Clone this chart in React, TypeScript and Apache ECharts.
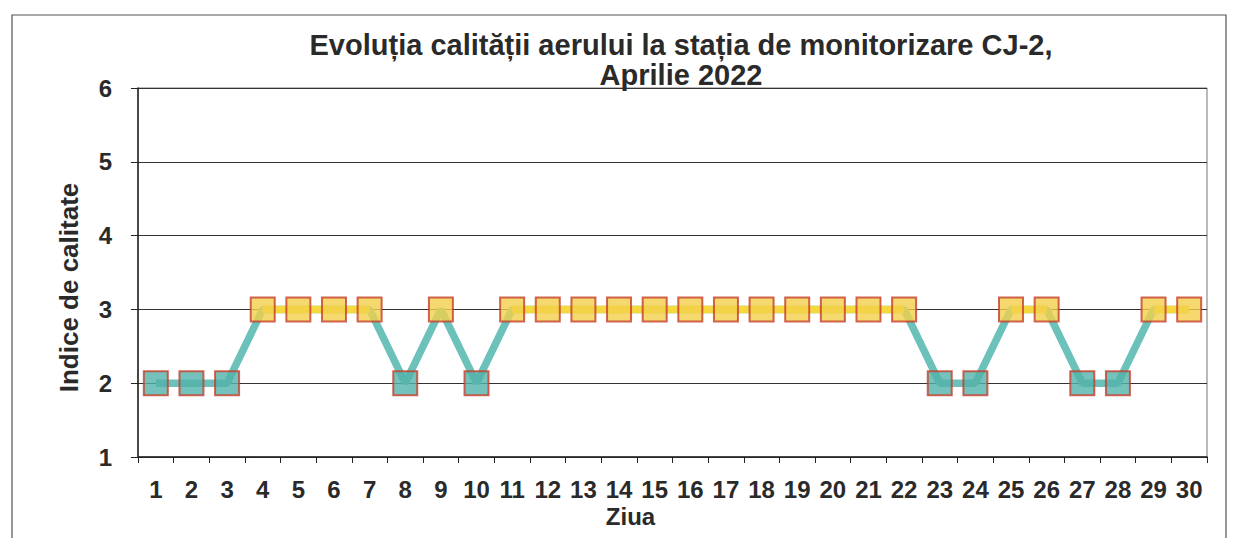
import React, { useEffect, useRef } from "react";
import * as echarts from "echarts";

const titleLines = ["Evoluția calității aerului la stația de monitorizare CJ-2,", "Aprilie 2022"];
const yAxisName = "Indice de calitate";
const xAxisName = "Ziua";
const days = [
  "1", "2", "3", "4", "5", "6", "7", "8", "9", "10",
  "11", "12", "13", "14", "15", "16", "17", "18", "19", "20",
  "21", "22", "23", "24", "25", "26", "27", "28", "29", "30",
];
const indexValues = [
  2, 2, 2, 3, 3, 3, 3, 2, 3, 2,
  3, 3, 3, 3, 3, 3, 3, 3, 3, 3,
  3, 3, 2, 2, 3, 3, 2, 2, 3, 3,
];

const YELLOW = "#F3CF4A";
const YELLOW_LINE = "#F6D93E";
const TEAL = "#52B2AA";
const TEAL_LINE = "#6CC2BB";
const RED = "#C63D2A";
const FONT = "'Liberation Sans', Arial, sans-serif";

export default function App() {
  const ref = useRef<HTMLDivElement>(null);

  useEffect(() => {
    if (!ref.current) return;
    const chart = echarts.init(ref.current, undefined, { renderer: "svg" });

    const yellowOnly = indexValues.map((v) => (v === 3 ? v : null));
    const markers = indexValues.map((v) => ({
      value: v,
      itemStyle: { color: v === 3 ? YELLOW : TEAL, borderColor: RED, borderWidth: 2 },
    }));

    chart.setOption({
      animation: false,
      backgroundColor: "#ffffff",
      textStyle: { fontFamily: FONT },
      title: {
        text: titleLines.join("\n"),
        left: 676,
        textAlign: "center",
        top: 25,
        textStyle: {
          fontFamily: FONT,
          fontSize: 29,
          fontWeight: "bold",
          color: "#2a2a2a",
          lineHeight: 30,
        },
      },
      graphic: [
        {
          type: "rect",
          shape: { x: 12, y: 15, width: 1214, height: 560 },
          style: { fill: "none", stroke: "#555", lineWidth: 1.2 },
          silent: true,
          z: -10,
        },
      ],
      grid: {
        left: 138,
        right: 33,
        top: 88,
        height: 369,
        show: true,
        borderColor: "#777",
        borderWidth: 1,
        backgroundColor: "transparent",
      },
      xAxis: {
        type: "category",
        data: days,
        boundaryGap: true,
        name: xAxisName,
        nameLocation: "middle",
        nameGap: 49,
        nameMoveOverlap: false,
        nameTextStyle: {
          fontFamily: FONT,
          fontSize: 24,
          fontWeight: "bold",
          color: "#2a2a2a",
          lineHeight: 20,
          padding: [0, 84, 0, 0],
        },
        axisLine: { show: true, lineStyle: { color: "#222", width: 1.5 } },
        axisTick: { show: true, length: 6, alignWithLabel: false, lineStyle: { color: "#222", width: 1 } },
        axisLabel: {
          interval: 0,
          margin: 22,
          fontFamily: FONT,
          fontSize: 24,
          lineHeight: 20,
          fontWeight: "bold",
          color: "#2a2a2a",
        },
        splitLine: { show: false },
      },
      yAxis: {
        type: "value",
        min: 1,
        max: 6,
        interval: 1,
        name: yAxisName,
        nameLocation: "middle",
        nameGap: 56,
        nameMoveOverlap: false,
        nameTextStyle: {
          fontFamily: FONT,
          fontSize: 26,
          fontWeight: "bold",
          color: "#2a2a2a",
          padding: [0, 30, 0, 0],
        },
        axisLine: { show: true, lineStyle: { color: "#222", width: 1.5 } },
        axisTick: { show: true, length: 7, lineStyle: { color: "#222", width: 1 } },
        axisLabel: {
          margin: 26,
          fontFamily: FONT,
          fontSize: 24,
          fontWeight: "bold",
          color: "#2a2a2a",
        },
        splitLine: { show: true, lineStyle: { color: "#333", width: 1 } },
      },
      series: [
        {
          type: "line",
          data: indexValues,
          showSymbol: false,
          lineStyle: { color: TEAL_LINE, width: 7.5 },
          itemStyle: { color: TEAL_LINE },
          z: 2,
          silent: true,
        },
        {
          type: "line",
          data: yellowOnly,
          connectNulls: false,
          showSymbol: false,
          lineStyle: { color: YELLOW_LINE, width: 7.5 },
          itemStyle: { color: YELLOW_LINE },
          z: 3,
          silent: true,
        },
        {
          type: "scatter",
          data: markers,
          symbol: "rect",
          symbolSize: 24,
          z: 4,
          silent: true,
        },
      ],
    });

    return () => chart.dispose();
  }, []);

  return (
    <div
      ref={ref}
      style={{ position: "fixed", left: 0, top: 0, width: 1240, height: 538, background: "#fff" }}
    />
  );
}
